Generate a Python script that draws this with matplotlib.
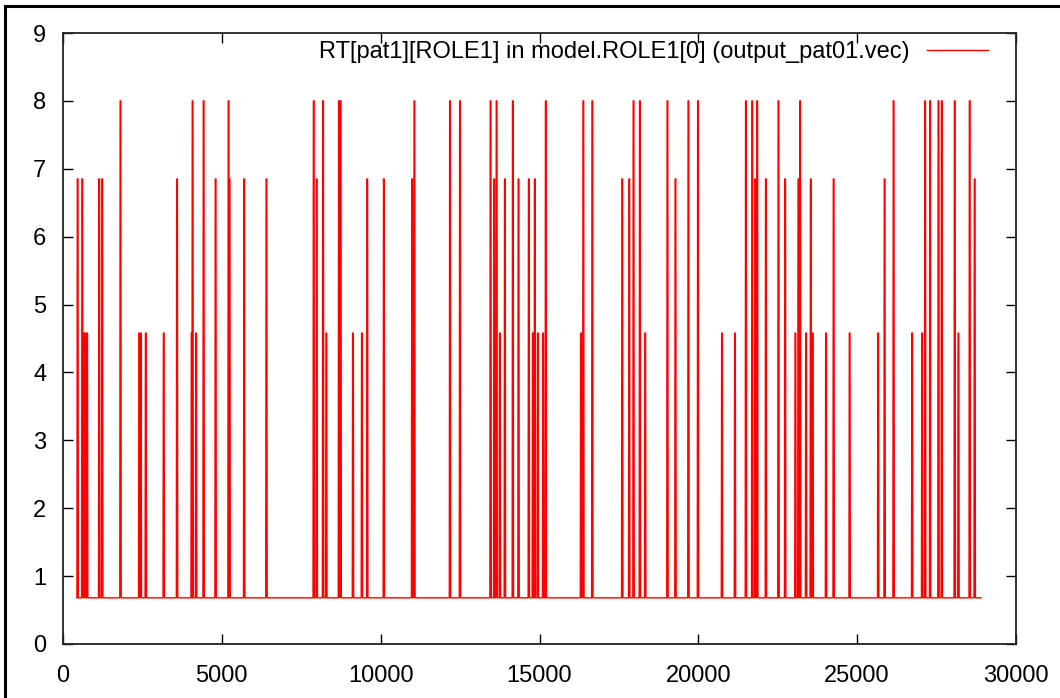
import matplotlib
matplotlib.use('Agg')
import matplotlib.pyplot as plt
import numpy as np

plt.rcParams['font.family'] = ['Liberation Sans', 'DejaVu Sans']
plt.rcParams['font.size'] = 17

# baseline and spikes of the RT vector
t_start = 430
t_end = 28900
base = 0.68
spike_t = [461, 607, 650, 700, 760, 1140, 1235, 1810, 2400, 2450, 2606, 3171, 3590,
           4050, 4080, 4190, 4427, 4804, 5212, 5244, 5704, 6405,
           7893, 7987, 8187, 8290, 8687, 8740, 9128, 9410, 9577, 10100, 10990, 11062,
           12183, 12497, 13460, 13575, 13650, 13753, 13910, 14161, 14340, 14664, 14790,
           14852, 14947, 15114, 15198, 16306, 16380, 16663, 17605, 17825, 17960, 18160,
           18328, 19028, 19280, 19688, 19990, 20745, 21153, 21498, 21697, 21791, 21854,
           22127, 22523, 22733, 23056, 23150, 23204, 23392, 23540, 23602, 24020, 24260,
           24763, 25662, 25864, 26147, 26732, 27046, 27140, 27297, 27560, 27664, 28072,
           28188, 28543, 28700]
spike_v = [6.85, 6.85, 4.58, 4.58, 4.58, 6.85, 6.85, 8.0, 4.58, 4.58, 4.58, 4.58, 6.85,
           4.58, 8.0, 4.58, 8.0, 6.85, 8.0, 6.85, 6.85, 6.85,
           8.0, 6.85, 8.0, 4.58, 8.0, 8.0, 4.58, 4.58, 6.85, 6.85, 6.85, 8.0,
           8.0, 8.0, 8.0, 6.85, 8.0, 4.58, 6.85, 8.0, 6.85, 6.85, 4.58,
           6.85, 4.58, 4.58, 8.0, 4.58, 8.0, 8.0, 6.85, 6.85, 8.0, 8.0,
           4.58, 8.0, 6.85, 8.0, 8.0, 4.58, 4.58, 8.0, 8.0, 6.85, 8.0,
           6.85, 8.0, 6.85, 4.58, 6.85, 8.0, 4.58, 6.85, 4.58, 4.58, 6.85,
           4.58, 4.58, 6.85, 8.0, 4.58, 4.58, 8.0, 8.0, 8.0, 8.0, 8.0,
           4.58, 8.0, 6.85]

# build the connected sample path: base -> peak -> base around each spike
w = 22
xs = [t_start]
ys = [base]
for t, v in zip(spike_t, spike_v):
    xs += [t - w, t - w / 2, t + w / 2, t + w]
    ys += [base, v, v, base]
xs.append(t_end)
ys.append(base)

fig = plt.figure(figsize=(10.6, 6.98), dpi=100)
ax = fig.add_axes([63 / 1060, 54 / 698, 953 / 1060, 611 / 698])

ax.plot(xs, ys, color='red', lw=1.0,
        label='RT[pat1][ROLE1] in model.ROLE1[0] (output_pat01.vec)')

ax.set_xlim(0, 30000)
ax.set_ylim(0, 9)
ax.set_xticks(range(0, 30001, 5000))
ax.set_yticks(range(0, 10))
ax.tick_params(direction='in', length=7, width=1, top=True, right=True,
               labelsize=17)
ax.tick_params(axis='x', pad=15)
ax.tick_params(axis='y', pad=12)
for s in ax.spines.values():
    s.set_linewidth(1.3)
    s.set_color('#222222')

ax.legend(loc='center right', frameon=False, handlelength=2.6,
          handletextpad=0.72, fontsize=17, markerfirst=False,
          borderpad=0, borderaxespad=0,
          bbox_to_anchor=((988 - 63) / 953, (644 - 52) / 611))

# outer frame (left and top edges visible)
fig.patches.append(plt.Rectangle((5 / 1060, -0.05), 1.2, 1 - 6 / 698 + 0.05,
                                 transform=fig.transFigure, fill=False,
                                 edgecolor='black', lw=2.2))

fig.savefig('out.png', dpi=100)
